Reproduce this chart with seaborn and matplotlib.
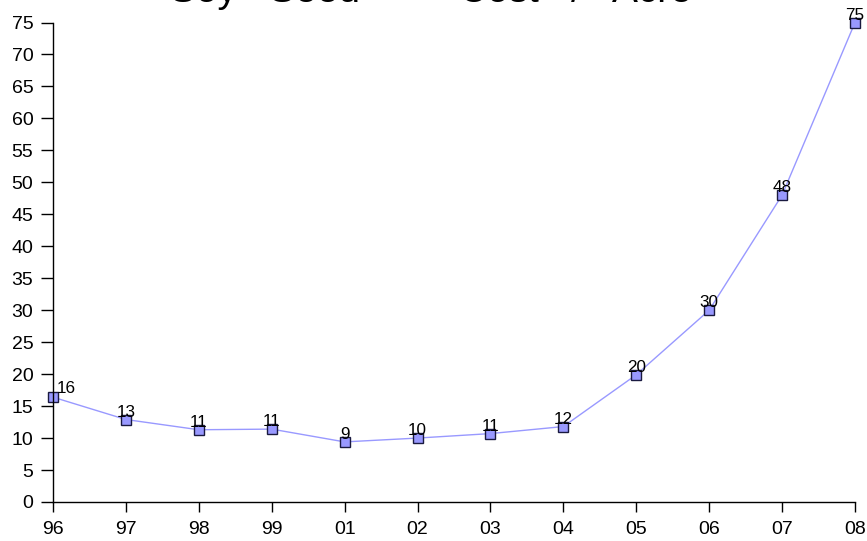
import matplotlib
matplotlib.use("Agg")
import matplotlib.pyplot as plt
import seaborn as sns
import pandas as pd

years = ["96", "97", "98", "99", "01", "02", "03", "04", "05", "06", "07", "08"]
cost = [16.4, 12.9, 11.3, 11.4, 9.4, 10.0, 10.7, 11.8, 19.9, 30.0, 48.0, 75.0]
point_labels = ["16", "13", "11", "11", "9", "10", "11", "12", "20", "30", "48", "75"]
y_ticks = list(range(0, 80, 5))
title = "Soy   Seed    -    Cost   /   Acre"

sns.set_theme(style="white")
plt.rcParams["font.family"] = ["Liberation Sans", "DejaVu Sans"]

df = pd.DataFrame({"year": years, "cost": cost})

fig = plt.figure(figsize=(8.67, 5.41), dpi=100)
ax = fig.add_axes([53 / 867, 1 - 502 / 541, (855 - 53) / 867, (502 - 22.5) / 541])

sns.lineplot(data=df, x="year", y="cost", sort=False, ax=ax,
             color="#9999FF", linewidth=1.0, marker="s", markersize=6.8,
             markerfacecolor="#9999FF", markeredgecolor="#1a1a40",
             markeredgewidth=1.0, clip_on=False)

for i, (v, lab) in enumerate(zip(cost, point_labels)):
    if i == 0:
        ax.annotate(lab, (i, v), xytext=(3, 1), textcoords="offset points",
                    ha="left", va="bottom", fontsize=12.3, color="black",
                    annotation_clip=False)
    else:
        ax.annotate(lab, (i, v), xytext=(0, 0), textcoords="offset points",
                    ha="center", va="bottom", fontsize=12.3, color="black",
                    annotation_clip=False)

ax.set_xlim(0, len(years) - 1)
ax.set_ylim(0, 75)
ax.set_yticks(y_ticks)
ax.set_xlabel("")
ax.set_ylabel("")
for s in ["top", "right"]:
    ax.spines[s].set_visible(False)
for s in ["left", "bottom"]:
    ax.spines[s].set_color("black")
    ax.spines[s].set_linewidth(1.0)
ax.tick_params(axis="y", which="both", left=True, length=8.6, width=1.0,
               color="black", labelsize=14, pad=5.5, labelcolor="black")
ax.tick_params(axis="x", which="both", bottom=True, length=7.2, width=1.0,
               color="black", labelsize=14, pad=6.5, labelcolor="black")
ax.grid(False)

fig.text(0.497, 1 - 2.5 / 541, title, ha="center", va="baseline",
         fontsize=28, color="black")

fig.savefig("out.png", dpi=100)
